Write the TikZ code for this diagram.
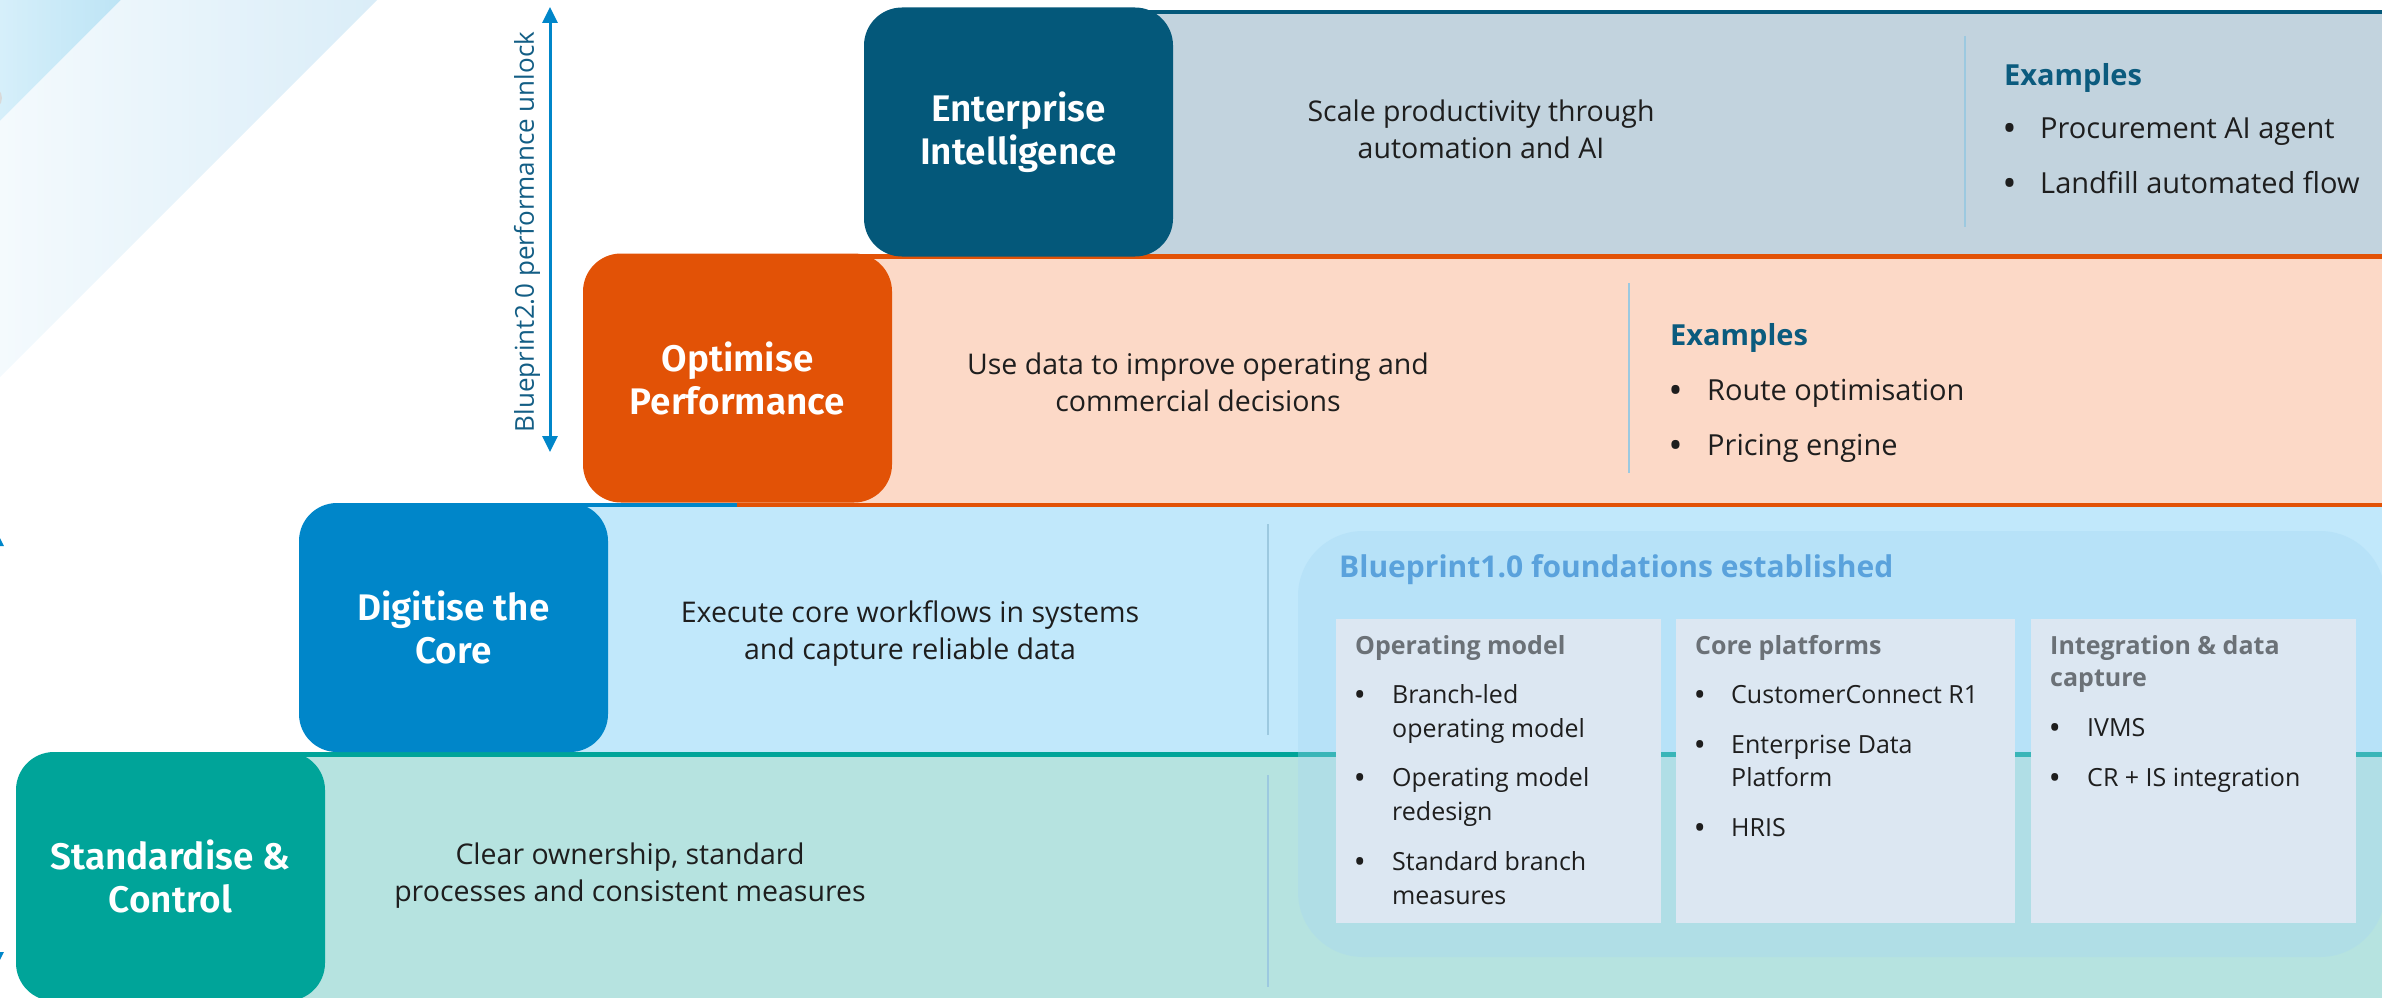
\documentclass[tikz,border=0pt]{standalone}
\usepackage{fontspec}
\setmainfont{Open Sans}
\newfontfamily\stagefont{Fira Sans SemiBold}
\usetikzlibrary{arrows.meta}

\definecolor{eiblue}{HTML}{04587A}
\definecolor{eiband}{HTML}{C2D3DE}
\definecolor{oporange}{HTML}{E25206}
\definecolor{opband}{HTML}{FCD9C7}
\definecolor{dgblue}{HTML}{0086C9}
\definecolor{dgband}{HTML}{C1E8FB}
\definecolor{scteal}{HTML}{00A499}
\definecolor{scband}{HTML}{B6E3E0}
\definecolor{darkhead}{HTML}{0B5B7E}
\definecolor{divline}{HTML}{9CC9E0}
\definecolor{fndpanel}{HTML}{A5D7F4}
\definecolor{fndtitle}{HTML}{5AA2DC}
\definecolor{fndbox}{HTML}{DCE7F2}
\definecolor{graytext}{HTML}{6B7177}
\definecolor{bodytext}{HTML}{1E1E1E}
\definecolor{bptext}{HTML}{135E85}
\definecolor{stripeAl}{HTML}{D6EFFA}
\definecolor{stripeAr}{HTML}{BDE4F5}
\definecolor{stripeBl}{HTML}{F4FAFD}
\definecolor{stripeBr}{HTML}{DAEDF8}

\tikzset{
  stagebox/.style={rectangle, rounded corners=38pt, minimum width=309pt,
    minimum height=249pt, inner sep=0pt, text=white, align=center,
    font=\stagefont\fontsize{37}{43}\selectfont},
  desc/.style={align=center, text=bodytext, inner sep=0pt,
    font=\fontsize{28.5}{37}\selectfont},
  exhead/.style={anchor=west, inner sep=0pt, text=darkhead, text height=20pt,
    text depth=0pt, font=\bfseries\fontsize{29}{36}\selectfont},
  exitem/.style={anchor=west, inner sep=0pt, text=bodytext, text height=20pt,
    text depth=0pt, font=\fontsize{29}{36}\selectfont},
  exbullet/.style={exitem, font=\bfseries\fontsize{29}{36}\selectfont},
  fndline/.style={anchor=west, inner sep=0pt, text=bodytext, text height=17.5pt,
    text depth=0pt, font=\fontsize{25}{34}\selectfont},
  fndbullet/.style={fndline, font=\bfseries\fontsize{25}{34}\selectfont},
  fndhead/.style={anchor=west, inner sep=0pt, text=graytext, text height=17.5pt,
    text depth=0pt, font=\bfseries\fontsize{25}{34}\selectfont},
  subbox/.style={rectangle, fill=fndbox, inner sep=0pt, minimum height=304pt},
  divider/.style={draw=divline, line width=2pt},
  border/.style={line width=4.5pt},
  twoway/.style={line width=3pt, draw=dgblue,
    {Triangle[length=16pt,width=15pt]}-{Triangle[length=16pt,width=15pt]}},
}

\begin{document}
\begin{tikzpicture}[x=1pt,y=-1pt]
\useasboundingbox (0,0) rectangle (2382,998);
\begin{scope}
\clip (0,0) rectangle (2382,998);

% diagonal background stripes, top left
\shade[left color=stripeAl, right color=stripeAr] (0,0) -- (121,0) -- (0,121) -- cycle;
\shade[left color=stripeBl, right color=stripeBr] (121,0) -- (377,0) -- (0,377) -- (0,121) -- cycle;
\fill[gray!30] (-10,98) circle (12);

% partial scale arrow at the left edge
\coordinate (edgeTop) at (-4,530);
\coordinate (edgeBot) at (-4,968);
\draw[twoway] (edgeTop) -- (edgeBot);

% band fills
\fill[scband] (213,754) rectangle (2390,1005);
\fill[dgband] (453,504) rectangle (2390,754);
\fill[opband] (737,255) rectangle (2390,504);
\fill[eiband] (1018,10) rectangle (2390,255);

% band borders
\draw[border, dgblue] (453,505) -- (2390,505);
\draw[border, oporange] (737,505) -- (2390,505);
\draw[border, oporange] (737,256.5) -- (2390,256.5);
\draw[border, eiblue] (1018,12) -- (2390,12);
\draw[border, scteal] (213,754.5) -- (2390,754.5);

% dividers between description and examples
\draw[divider] (1965,36) -- (1965,227);
\draw[divider] (1629,283) -- (1629,473);
\draw[divider] (1268,524) -- (1268,735);
\draw[divider] (1268,775) -- (1268,987);

% Blueprint 1.0 foundations panel
\fill[fndpanel, fill opacity=0.35, rounded corners=65pt] (1298,531) rectangle (2385,957);
\node[anchor=west, inner sep=0pt, text=fndtitle, text height=21pt, text depth=0pt,
  font=\bfseries\fontsize{30}{36}\selectfont] (fndt) at (1339,567) {Blueprint1.0 foundations established};

\node[subbox, minimum width=325pt] (col1) at (1498.5,771) {};
\node[subbox, minimum width=339pt] (col2) at (1845.5,771) {};
\node[subbox, minimum width=325pt] (col3) at (2193.5,771) {};

% operating model column
\node[fndhead] (c1h) at (1355,646) {Operating model};
\node[fndbullet] (c1b1) at (1355,695) {•};
\node[fndline] (c1t1a) at (1392,695) {Branch-led};
\node[fndline] (c1t1b) at (1392,729) {operating model};
\node[fndbullet] (c1b2) at (1355,778) {•};
\node[fndline] (c1t2a) at (1392,778) {Operating model};
\node[fndline] (c1t2b) at (1392,812) {redesign};
\node[fndbullet] (c1b3) at (1355,862) {•};
\node[fndline] (c1t3a) at (1392,862) {Standard branch};
\node[fndline] (c1t3b) at (1392,896) {measures};

% core platforms column
\node[fndhead] (c2h) at (1695,646) {Core platforms};
\node[fndbullet] (c2b1) at (1695,695) {•};
\node[fndline] (c2t1) at (1731,695) {CustomerConnect R1};
\node[fndbullet] (c2b2) at (1695,745) {•};
\node[fndline] (c2t2a) at (1731,745) {Enterprise Data};
\node[fndline] (c2t2b) at (1731,778) {Platform};
\node[fndbullet] (c2b3) at (1695,828) {•};
\node[fndline] (c2t3) at (1731,828) {HRIS};

% integration column
\node[fndhead] (c3ha) at (2050,646) {Integration \& data};
\node[fndhead] (c3hb) at (2050,678) {capture};
\node[fndbullet] (c3b1) at (2050,728) {•};
\node[fndline] (c3t1) at (2087,728) {IVMS};
\node[fndbullet] (c3b2) at (2050,778) {•};
\node[fndline] (c3t2) at (2087,778) {CR + IS integration};

% stage boxes
\node[stagebox, fill=eiblue] (ei) at (1018.5,132) {Enterprise\\Intelligence};
\node[stagebox, fill=oporange] (op) at (737.5,378) {Optimise\\Performance};
\node[stagebox, fill=dgblue] (dg) at (453.5,627.5) {Digitise the\\Core};
\node[stagebox, fill=scteal] (sc) at (170.5,876.5) {Standardise \&\\Control};

% stage descriptions
\node[desc] (eidesc) at (1481,129) {Scale productivity through\\automation and AI};
\node[desc] (opdesc) at (1198,382) {Use data to improve operating and\\commercial decisions};
\node[desc] (dgdesc) at (910,634) {Execute core workflows in systems\\and capture reliable data};
\node[desc] (scdesc) at (630,876) {Clear ownership, standard\\processes and consistent measures};

% examples
\node[exhead] (eiex) at (2004,75) {Examples};
\node[exbullet] (eib1) at (2004,128) {•};
\node[exitem] (eit1) at (2040,128) {Procurement AI agent};
\node[exbullet] (eib2) at (2004,183) {•};
\node[exitem] (eit2) at (2040,183) {Landfill automated flow};

\node[exhead] (opex) at (1670,335) {Examples};
\node[exbullet] (opb1) at (1670,390) {•};
\node[exitem] (opt1) at (1707,390) {Route optimisation};
\node[exbullet] (opb2) at (1670,445) {•};
\node[exitem] (opt2) at (1707,445) {Pricing engine};

% Blueprint 2.0 range arrow
\coordinate (bpTop) at (550,7);
\coordinate (bpBot) at (550,452);
\draw[twoway] (bpTop) -- (bpBot);
\node[rotate=90, inner sep=0pt, text=bptext, font=\fontsize{26}{30}\selectfont] (bplabel)
  at (527,232) {Blueprint2.0 performance unlock};
\end{scope}
\end{tikzpicture}
\end{document}
